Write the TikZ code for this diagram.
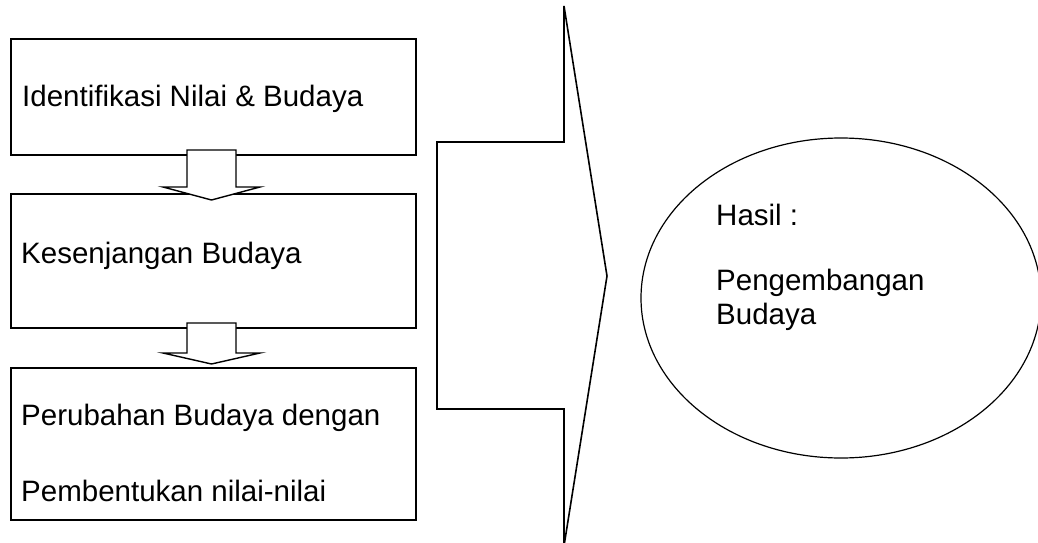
\documentclass[tikz,border=0pt]{standalone}
\usepackage{fontspec}
\setmainfont{Liberation Sans}
\usetikzlibrary{shapes.geometric}
\tikzset{
  stagebox/.style={draw, line width=1.6pt, minimum width=405pt, minimum height=#1, inner sep=0pt},
  stagetext/.style={anchor=base west, inner sep=0pt, font=\fontsize{29.5}{34}\selectfont},
  downflow/.style={draw, fill=white, line width=1.4pt},
  bigflow/.style={draw, line width=1.6pt},
  outcome/.style={draw, ellipse, line width=1.2pt, minimum width=400pt, minimum height=320pt, inner sep=0pt}
}

\begin{document}
\begin{tikzpicture}[x=1pt, y=-1pt]
        \useasboundingbox (0,0) rectangle (1038,543);
        % the three stages on the left
        \node[stagebox=116pt] (ident)  at (213.5, 97) {};
        \node[stagebox=134pt] (gap)    at (213.5,261) {};
        \node[stagebox=152pt] (change) at (213.5,444) {};
        \node[stagetext] (identtxt)   at (22,106) {Identifikasi Nilai \& Budaya};
        \node[stagetext] (gaptxt)     at (21,263) {Kesenjangan Budaya};
        \node[stagetext] (changetxt)  at (21,425) {Perubahan Budaya dengan};
        \node[stagetext] (shapetxt)   at (21,501) {Pembentukan nilai-nilai};
        % block arrows between the stages
        \foreach \top/\neck/\tip in {150/187/200, 323/353/364}
          \draw[downflow] (187,\top) -- (236,\top) -- (236,\neck) -- (260,\neck)
                          -- (211.5,\tip) -- (163,\neck) -- (187,\neck) -- cycle;
        % wide arrow into the result
        \draw[bigflow] (437,142) -- (564,142) -- (564,6) -- (607,276)
                       -- (564,546) -- (564,409) -- (437,409) -- cycle;
        \node[outcome] (result) at (841,298) {};
        \node[stagetext] (hasil)   at (716,225) {Hasil :};
        \node[stagetext] (develop) at (716,290) {Pengembangan};
        \node[stagetext] (budaya)  at (716,324) {Budaya};
      \end{tikzpicture}
\end{document}
